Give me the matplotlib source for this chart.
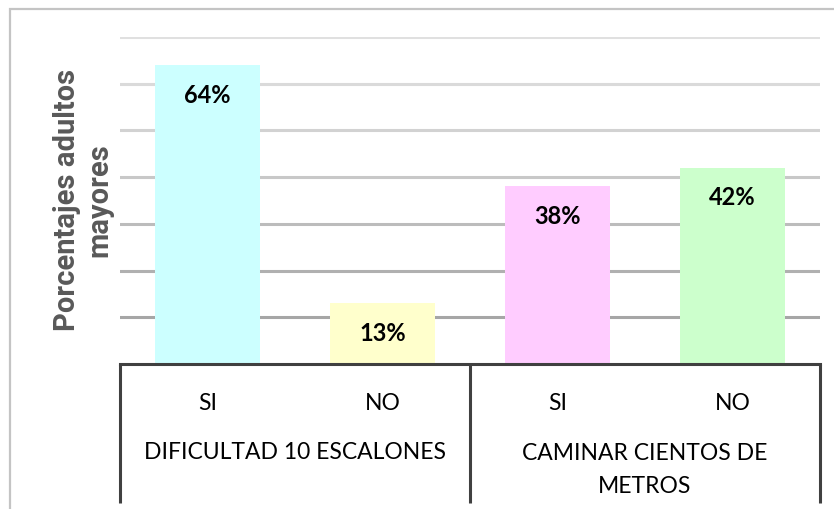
import matplotlib.pyplot as plt
from matplotlib.patches import Rectangle

# data
sub_labels = ['SI', 'NO', 'SI', 'NO']
group_labels = ['DIFICULTAD 10 ESCALONES', 'CAMINAR CIENTOS DE\nMETROS']
values = [64, 13, 38, 42]
value_text = ['64%', '13%', '38%', '42%']
bar_colors = ['#ccffff', '#ffffcc', '#ffccff', '#ccffcc']
y_title = 'Porcentajes adultos\nmayores'

fig = plt.figure(figsize=(8.34, 5.10), dpi=100)
ax = fig.add_axes([120/834, 1 - 365/510, 700/834, 327/510])

x = range(len(values))
bars = ax.bar(x, values, width=0.6, color=bar_colors, zorder=2)

# gridlines, lighter at the top
grid_levels = [10, 20, 30, 40, 50, 60, 70]
grid_cols = ['#a6a6a6', '#b0b0b0', '#bcbcbc', '#c8c8c8', '#d2d2d2', '#dadada', '#e0e0e0']
for g, c in zip(grid_levels, grid_cols):
    ax.axhline(g, color=c, lw=2.2, zorder=1)

ax.set_xlim(-0.5, 3.5)
ax.set_ylim(0, 70)
ax.set_xticks([])
ax.set_yticks([])
for s in ['top', 'right', 'left']:
    ax.spines[s].set_visible(False)
ax.spines['bottom'].set_color('#404040')
ax.spines['bottom'].set_linewidth(2.2)

lab_font = ['Lato', 'DejaVu Sans']

# value labels inside bars
for b, t in zip(bars, value_text):
    ax.annotate(t, (b.get_x() + b.get_width()/2, b.get_height()),
                xytext=(0, -21), textcoords='offset points',
                ha='center', va='center', fontsize=17, fontweight='bold',
                family=lab_font, color='black', zorder=3)

# two-level category axis
tr = ax.get_xaxis_transform()
for xs in [-0.5, 1.5, 3.5]:
    ax.plot([xs, xs], [0, -139/327], transform=tr, color='#404040',
            lw=2.2, clip_on=False, solid_capstyle='butt')
for i, lab in enumerate(sub_labels):
    ax.text(i, -38/327, lab, transform=tr, ha='center', va='center',
            fontsize=16.5, family=lab_font, color='black')
ax.text(0.5, -88/327, group_labels[0], transform=tr, ha='center', va='center',
        fontsize=16.5, family=lab_font, color='black')
ax.text(2.5, -105/327, group_labels[1], transform=tr, ha='center', va='center',
        fontsize=16.5, family=lab_font, color='black', linespacing=1.75)

# y axis title
fig.text(83/834, 1 - 200/510, y_title, rotation=90, ha='center', va='center',
         fontsize=21, fontweight='bold', family=['Roboto', 'DejaVu Sans'],
         color='#595959', linespacing=1.2, multialignment='center')

# outer chart frame (cropped on right and bottom)
fig.patches.append(Rectangle((10/834, -0.2), 1.2, 1 - 10/510 + 0.2,
                             transform=fig.transFigure, fill=False,
                             edgecolor='#c4c4c4', lw=1.6))

fig.savefig('out.png', dpi=100)
